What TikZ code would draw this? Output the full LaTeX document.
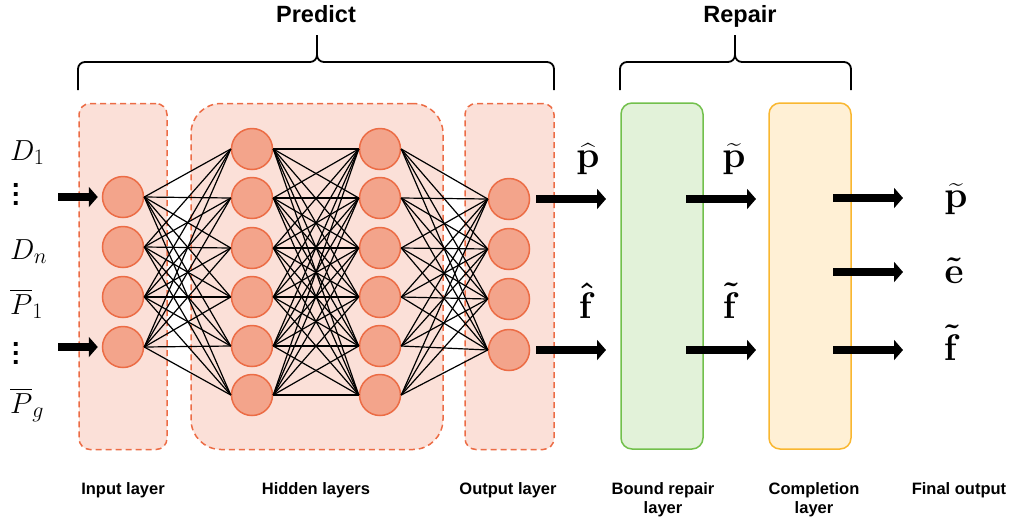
\RequirePackage{fix-cm}
\documentclass[tikz,border=0pt]{standalone}
\usepackage{amsmath}
\usepackage{fontspec}
\setsansfont{Liberation Sans}
\usetikzlibrary{arrows.meta}
\definecolor{netfill}{HTML}{FBE0D8}
\definecolor{netline}{HTML}{EC6C45}
\definecolor{unitfill}{HTML}{F3A48B}
\definecolor{repfill}{HTML}{E2F2D9}
\definecolor{repline}{HTML}{72C04C}
\definecolor{comfill}{HTML}{FFF0D5}
\definecolor{comline}{HTML}{F9B730}
% bigger indices on the input names
\DeclareMathSizes{29}{29}{22}{16}
% square dots stacked, for the skipped inputs
\def\vdotsq{\vbox{\baselineskip=9pt\lineskiplimit=0pt\hbox{.}\hbox{.}\hbox{.}}}

\begin{document}
\begin{tikzpicture}[x=1pt,y=-1pt]
\tikzstyle{layer}=[draw=netline, fill=netfill, dash pattern=on 6pt off 4pt, line width=1.5pt, rectangle, rounded corners=11pt, minimum height=346pt]
\tikzstyle{repbox}=[line width=1.5pt, rectangle, rounded corners=11pt, minimum width=82pt, minimum height=346pt]
\tikzstyle{neur}=[circle, draw=netline, fill=unitfill, line width=1.5pt, minimum size=41pt, inner sep=0pt]
\tikzstyle{fat}=[line width=8pt, -{Triangle[length=9pt,width=20pt]}]
\tikzstyle{laybl}=[font=\sffamily\bfseries\fontsize{16.5}{19}\selectfont, align=center, anchor=north, inner sep=0pt]
\tikzstyle{headtxt}=[font=\sffamily\bfseries\fontsize{23.5}{28}\selectfont, anchor=north, inner sep=0pt]
\tikzstyle{bracket}=[line width=1.8pt, rounded corners=7pt]
\tikzstyle{invar}=[font=\fontsize{29}{34}\selectfont, anchor=base west, inner sep=0pt]
\tikzstyle{dotcol}=[font=\sffamily\bfseries\fontsize{27}{27}\selectfont, inner sep=0pt]
\tikzstyle{outvar}=[font=\fontsize{37}{40}\selectfont\boldmath, anchor=base, inner sep=0pt]
\useasboundingbox (0,0) rectangle (1011,520);

% Predict: the network boxes
\node[layer, minimum width=88pt] (inbox) at (123,276.5) {};
\node[layer, minimum width=252pt, rounded corners=30pt] (hidbox) at (317,276.5) {};
\node[layer, minimum width=89pt] (outbox) at (509.5,276.5) {};

% Repair boxes
\node[repbox, draw=repline, fill=repfill] (bound) at (662,276) {};
\node[repbox, draw=comline, fill=comfill] (compl) at (810,276) {};

% neurons
\foreach \i/\y in {1/197,2/247,3/297,4/347}
  \node[neur] (in\i) at (123,\y) {};
\foreach \i/\y in {1/149,2/198,3/248,4/297,5/346,6/395}
  \node[neur] (ha\i) at (252,\y) {};
\foreach \i/\y in {1/149,2/198,3/248,4/297,5/346,6/395}
  \node[neur] (hb\i) at (380,\y) {};
\foreach \i/\y in {1/199,2/249,3/299,4/350}
  \node[neur] (out\i) at (509,\y) {};

% weights
\foreach \a in {1,...,4}
  \foreach \b in {1,...,6}
    \draw[line width=1.2pt] (in\a.east) -- (ha\b.west);
\foreach \a in {1,...,6}
  \foreach \b in {1,...,6}
    \draw[line width=1.2pt] (ha\a.east) -- (hb\b.west);
\foreach \a in {1,...,6}
  \foreach \b in {1,...,4}
    \draw[line width=1.2pt] (hb\a.east) -- (out\b.west);

% inputs
\node[invar] (d1) at (10,160) {$D_1$};
\node[dotcol] (dots1) at (16,194) {\vdotsq};
\node[invar] (dn) at (10,259) {$D_n$};
\node[invar] (p1) at (10,314) {$\overline{P}_1$};
\node[dotcol] (dots2) at (16,353) {\vdotsq};
\node[invar] (pg) at (10,413) {$\overline{P}_g$};
\coordinate (xin1) at (58,197);
\coordinate (xin4) at (58,347);
\draw[fat, shorten >=4pt] (xin1) -- (in1);
\draw[fat, shorten >=4pt] (xin4) -- (in4);

% network outputs
\coordinate (pout) at (606,199);
\coordinate (fout) at (606,350);
\draw[fat, shorten <=6pt] (out1) -- (pout);
\draw[fat, shorten <=6pt] (out4) -- (fout);
\node[outvar] (phat) at (588,167) {$\widehat{\mathbf{p}}$};
\node[outvar] (fhat) at (587,318) {$\hat{\mathbf{f}}$};

% bound repair outputs
\coordinate (bp0) at (686,199);
\coordinate (bp1) at (756,199);
\coordinate (bf0) at (686,350);
\coordinate (bf1) at (756,350);
\draw[fat] (bp0) -- (bp1);
\draw[fat] (bf0) -- (bf1);
\node[outvar] (ptil) at (734,167) {$\widetilde{\mathbf{p}}$};
\node[outvar] (ftil) at (731,318) {$\tilde{\mathbf{f}}$};

% completion outputs
\coordinate (cp0) at (833,198);
\coordinate (cp1) at (903,198);
\coordinate (ce0) at (833,272);
\coordinate (ce1) at (903,272);
\coordinate (cf0) at (833,350);
\coordinate (cf1) at (903,350);
\draw[fat] (cp0) -- (cp1);
\draw[fat] (ce0) -- (ce1);
\draw[fat] (cf0) -- (cf1);
\node[outvar] (pfin) at (956,207) {$\widetilde{\mathbf{p}}$};
\node[outvar] (efin) at (954,283) {$\tilde{\mathbf{e}}$};
\node[outvar] (ffin) at (952,360) {$\tilde{\mathbf{f}}$};

% braces and titles
\draw[bracket] (78,90) -- (78,62) -- (317,62) -- (317,35);
\draw[bracket] (554,90) -- (554,62) -- (317,62) -- (317,35);
\node[headtxt] (predict) at (316,5) {Predict};
\draw[bracket] (620,90) -- (620,62) -- (735,62) -- (735,35);
\draw[bracket] (851,90) -- (851,62) -- (735,62) -- (735,35);
\node[headtxt] (repair) at (740,5) {Repair};

% layer names
\node[laybl] (lin) at (123,482.5) {Input layer};
\node[laybl] (lhid) at (316,482.5) {Hidden layers};
\node[laybl] (lout) at (508,482.5) {Output layer};
\node[laybl] (lbound) at (663,482.5) {Bound repair\\layer};
\node[laybl] (lcompl) at (814,482.5) {Completion\\layer};
\node[laybl] (lfin) at (959,482.5) {Final output};

\end{tikzpicture}
\end{document}
